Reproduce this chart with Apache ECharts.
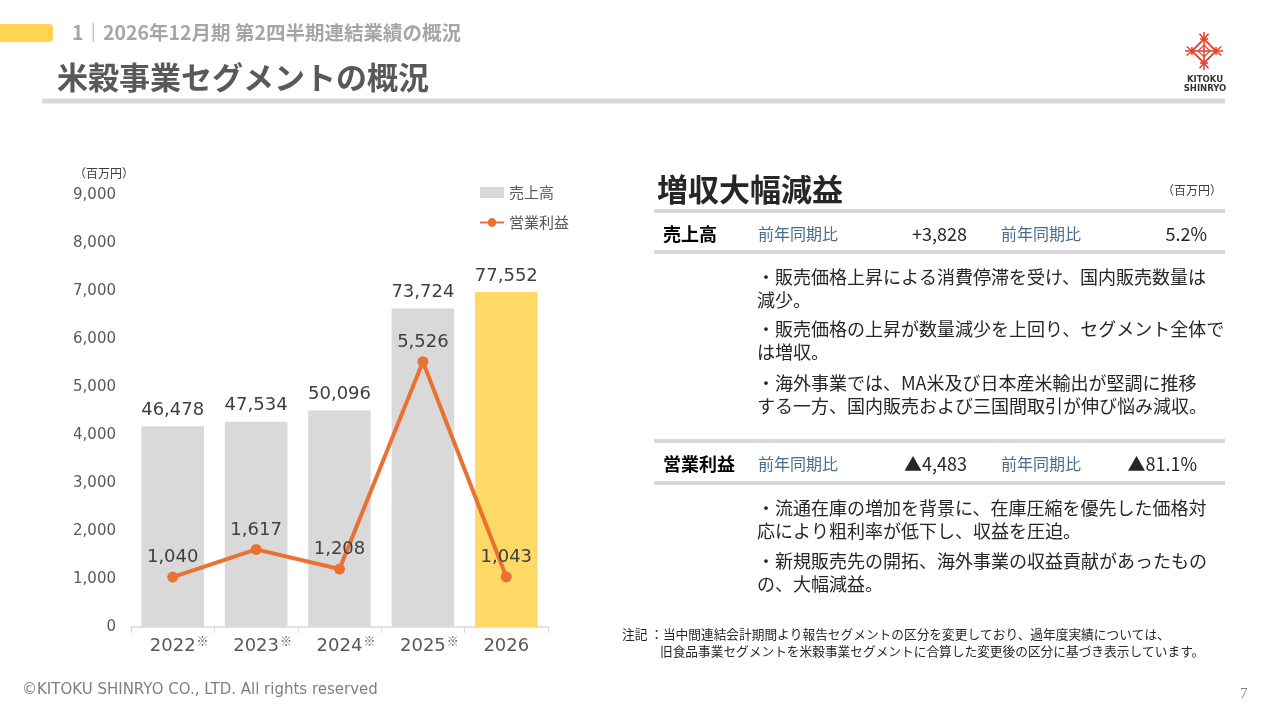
<!DOCTYPE html>
<html><head><meta charset="utf-8">
<script src="https://cdn.jsdelivr.net/npm/echarts@6/dist/echarts.min.js"></script>
<style>html,body{margin:0;padding:0;background:#fff}#c{width:1280px;height:720px}</style>
</head><body><div id="c"></div>
<script>
// ---- data ----
const years = ['2022', '2023', '2024', '2025', '2026'];
const yearMarks = ['※', '※', '※', '※', ''];
const sales = [46478, 47534, 50096, 73724, 77552];
const operatingIncome = [1040, 1617, 1208, 5526, 1043];
const incomeAxisMax = 9000;
const incomeAxisStep = 1000;
const salesAxisMax = 100000;
const seriesNames = ['売上高', '営業利益'];

const salesRow = ['売上高', '前年同期比', '+3,828', '前年同期比', '5.2%'];
const incomeRow = ['営業利益', '前年同期比', '▲4,483', '前年同期比', '▲81.1%'];
const salesBullets = [
  '・販売価格上昇による消費停滞を受け、国内販売数量は',
  '減少。',
  '・販売価格の上昇が数量減少を上回り、セグメント全体で',
  'は増収。',
  '・海外事業では、MA米及び日本産米輸出が堅調に推移',
  'する一方、国内販売および三国間取引が伸び悩み減収。'
];
const incomeBullets = [
  '・流通在庫の増加を背景に、在庫圧縮を優先した価格対',
  '応により粗利率が低下し、収益を圧迫。',
  '・新規販売先の開拓、海外事業の収益貢献があったもの',
  'の、大幅減益。'
];
const noteLines = [
  '注記 ：当中間連結会計期間より報告セグメントの区分を変更しており、過年度実績については、',
  '旧食品事業セグメントを米穀事業セグメントに合算した変更後の区分に基づき表示しています。'
];

// ---- styling helpers ----
const JP = '"Noto Sans CJK JP", sans-serif';
const NUM = '"DejaVu Sans", sans-serif';
const GRAY = '#D9D9D9';
const YELLOW = '#FFD966';
const ORANGE = '#E97132';
const fmt = v => Number(v).toLocaleString('en-US');

function txt(x, y, text, size, color, weight, align, family) {
  return {
    type: 'text', x: x, y: y, silent: true,
    style: {
      text: text, fill: color,
      font: (weight || 'normal') + ' ' + size + 'px ' + (family || JP),
      align: align || 'left', verticalAlign: 'middle'
    }
  };
}
function hline(x1, x2, y, w, color) {
  return { type: 'rect', silent: true, shape: { x: x1, y: y - w / 2, width: x2 - x1, height: w }, style: { fill: color } };
}

const graphics = [];
// header
graphics.push({ type: 'rect', silent: true, shape: { x: -10, y: 24, width: 63, height: 18, r: 4 }, style: { fill: '#FFD54F' } });
graphics.push(txt(72, 33, '1｜2026年12月期 第2四半期連結業績の概況', 19.5, '#A6A6A6', 'bold'));
graphics.push(txt(57, 77, '米穀事業セグメントの概況', 31, '#595959', 'bold'));
graphics.push(hline(42, 1225, 101, 5, GRAY));

// logo
(function () {
  const cx = 1204, cy = 51, r = 12, red = '#E8452F';
  const s = { stroke: red, lineWidth: 1.6 };
  const pts = [[cx, cy - r], [cx + r, cy], [cx, cy + r], [cx - r, cy]];
  graphics.push({ type: 'polygon', silent: true, shape: { points: pts }, style: { fill: 'none', stroke: red, lineWidth: 1.8 } });
  graphics.push({ type: 'line', silent: true, shape: { x1: cx, y1: cy - r, x2: cx, y2: cy + r }, style: s });
  graphics.push({ type: 'line', silent: true, shape: { x1: cx - r, y1: cy, x2: cx + r, y2: cy }, style: s });
  const inner = 6;
  graphics.push({ type: 'polygon', silent: true, shape: { points: [[cx, cy - inner], [cx + inner, cy], [cx, cy + inner], [cx - inner, cy]] }, style: { fill: 'none', stroke: red, lineWidth: 1.2 } });
  pts.forEach(function (p, i) {
    const ang = [-Math.PI / 2, 0, Math.PI / 2, Math.PI][i];
    [-0.7, 0, 0.7].forEach(function (d) {
      const a = ang + d;
      graphics.push({ type: 'line', silent: true, shape: { x1: p[0], y1: p[1], x2: p[0] + Math.cos(a) * 7, y2: p[1] + Math.sin(a) * 7 }, style: s });
    });
    graphics.push({ type: 'line', silent: true, shape: { x1: p[0] - Math.sin(ang) * 4, y1: p[1] + Math.cos(ang) * 4, x2: p[0] + Math.sin(ang) * 4, y2: p[1] - Math.cos(ang) * 4 }, style: s });
    graphics.push({ type: 'circle', silent: true, shape: { cx: p[0], cy: p[1], r: 2 }, style: { fill: red } });
  });
  graphics.push(txt(1205, 80, 'KITOKU', 8.5, '#333', 'bold', 'center', NUM));
  graphics.push(txt(1205, 89, 'SHINRYO', 8.5, '#333', 'bold', 'center', NUM));
})();

// chart unit
graphics.push(txt(74, 173, '（百万円）', 12, '#404040'));

// right panel
graphics.push(txt(657, 189, '増収大幅減益', 31, '#262626', 'bold'));
graphics.push(txt(1162, 190, '（百万円）', 12, '#404040'));
graphics.push(hline(654, 1225, 211, 4, GRAY));
function row(y, cells, lastRight) {
  graphics.push(txt(663, y, cells[0], 18, '#000', 'bold'));
  graphics.push(txt(758, y, cells[1], 16, '#4A6C8F'));
  graphics.push(txt(967, y, cells[2], 18, '#262626', 'normal', 'right'));
  graphics.push(txt(1001, y, cells[3], 16, '#4A6C8F'));
  graphics.push(txt(lastRight, y, cells[4], 18, '#262626', 'normal', 'right'));
}
row(234, salesRow, 1207);
graphics.push(hline(654, 1225, 252, 4, GRAY));
const salesY = [277, 300, 329, 352, 383, 406];
salesBullets.forEach(function (t, i) { graphics.push(txt(757, salesY[i], t, 18, '#262626')); });
graphics.push(hline(654, 1225, 441, 4, GRAY));
row(464, incomeRow, 1197);
graphics.push(hline(654, 1225, 483, 4, GRAY));
const incomeY = [508, 531, 561, 584];
incomeBullets.forEach(function (t, i) { graphics.push(txt(757, incomeY[i], t, 18, '#262626')); });

// note
graphics.push(txt(622, 634, noteLines[0], 12.7, '#262626'));
graphics.push(txt(660, 651, noteLines[1], 12.7, '#262626'));

// footer
graphics.push(txt(22, 690, '©KITOKU SHINRYO CO., LTD. All rights reserved', 15, '#7F7F7F', 'normal', 'left', NUM));
graphics.push(txt(1240, 694, '7', 15, '#808080', 'normal', 'left', '"Liberation Serif", serif'));

const chart = echarts.init(document.getElementById('c'));
chart.setOption({
  animation: false,
  backgroundColor: '#fff',
  grid: { left: 131, right: 732, top: 195, bottom: 93, containLabel: false },
  legend: {
    orient: 'vertical', left: 474, top: 180, itemWidth: 24, itemHeight: 11, itemGap: 15,
    textStyle: { fontFamily: JP, fontSize: 15, color: '#595959' },
    data: [{ name: seriesNames[0], icon: 'rect' }, { name: seriesNames[1] }]
  },
  xAxis: {
    type: 'category', data: years,
    axisLine: { lineStyle: { color: GRAY, width: 1.5 } },
    axisTick: { show: true, length: 6, lineStyle: { color: GRAY } },
    axisLabel: {
      margin: 8, interval: 0, hideOverlap: false,
      formatter: function (v, i) {
        return '{p|}{y|' + v + '}' + (yearMarks[i] ? '{s|' + yearMarks[i] + '}' : '{p|}');
      },
      rich: {
        p: { width: 14 },
        y: { fontFamily: NUM, fontSize: 18, color: '#595959', lineHeight: 22 },
        s: { width: 14, fontFamily: JP, fontSize: 12, color: '#595959', verticalAlign: 'top', lineHeight: 22, padding: [0, 0, 10, 0] }
      }
    }
  },
  yAxis: [
    {
      type: 'value', min: 0, max: incomeAxisMax, interval: incomeAxisStep,
      axisLine: { show: false }, axisTick: { show: false }, splitLine: { show: false },
      axisLabel: { formatter: fmt, fontFamily: NUM, fontSize: 15, color: '#595959', margin: 15 }
    },
    { type: 'value', min: 0, max: salesAxisMax, show: false, splitLine: { show: false } }
  ],
  series: [
    {
      name: seriesNames[0], type: 'bar', yAxisIndex: 1, barCategoryGap: '25%',
      itemStyle: { color: GRAY },
      data: sales.map(function (v, i) { return i === sales.length - 1 ? { value: v, itemStyle: { color: YELLOW } } : v; }),
      label: { show: true, position: 'top', distance: 7, fontFamily: NUM, fontSize: 18, color: '#404040', formatter: function (p) { return fmt(p.value); } },
      z: 2
    },
    {
      name: seriesNames[1], type: 'line', yAxisIndex: 0,
      symbol: 'circle', symbolSize: 11,
      lineStyle: { color: ORANGE, width: 4 }, itemStyle: { color: ORANGE },
      data: operatingIncome,
      label: { show: true, position: 'top', distance: 5, fontFamily: NUM, fontSize: 18, color: '#404040', formatter: function (p) { return fmt(p.value); } },
      z: 3
    }
  ],
  graphic: graphics
});
</script></body></html>
